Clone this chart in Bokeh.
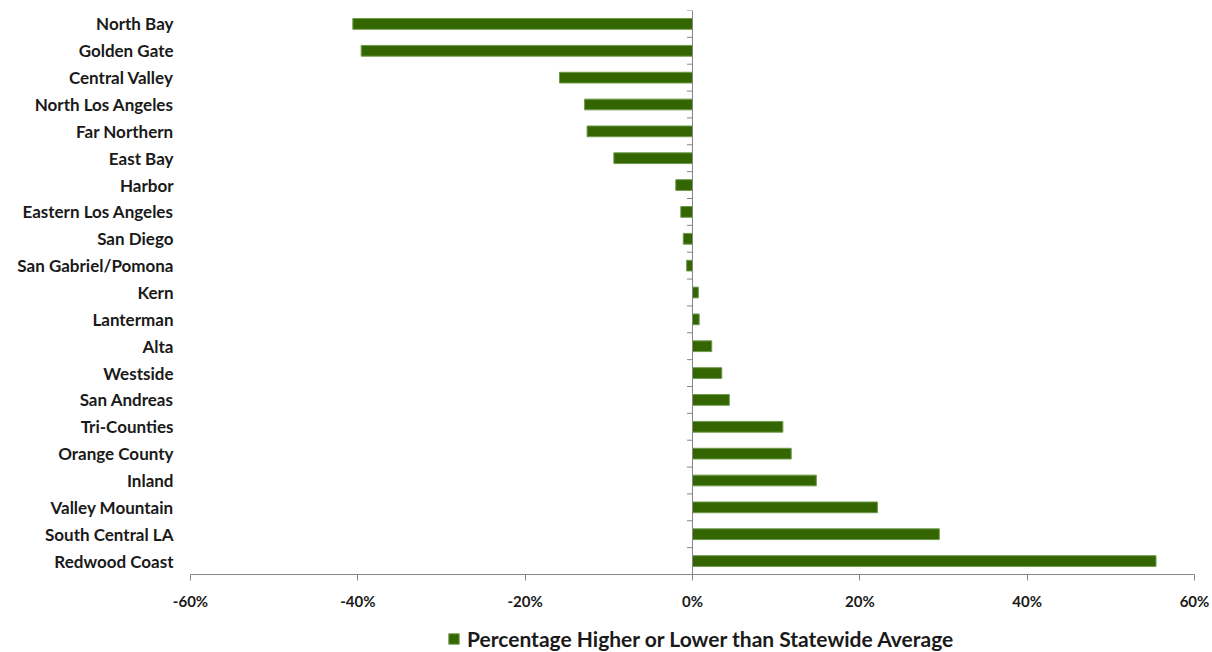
from bokeh.plotting import figure
from bokeh.layouts import column
from bokeh.models import FactorRange, ColumnDataSource, Span, Legend, LegendItem, PrintfTickFormatter, FixedTicker
from bokeh.transform import dodge
from bokeh.embed import file_html
from bokeh.resources import INLINE

regions = ["North Bay", "Golden Gate", "Central Valley", "North Los Angeles", "Far Northern",
           "East Bay", "Harbor", "Eastern Los Angeles", "San Diego", "San Gabriel/Pomona",
           "Kern", "Lanterman", "Alta", "Westside", "San Andreas", "Tri-Counties",
           "Orange County", "Inland", "Valley Mountain", "South Central LA", "Redwood Coast"]
pct_diff = [-40.6, -39.6, -15.9, -12.9, -12.6, -9.4, -2.0, -1.4, -1.1, -0.7,
            0.7, 0.8, 2.3, 3.5, 4.4, 10.8, 11.8, 14.8, 22.1, 29.5, 55.4]
x_ticks = [-60, -40, -20, 0, 20, 40, 60]
series_name = "Percentage Higher or Lower than Statewide Average"

FONT = "Lato"
GREEN = "#336600"
EDGE = "#6f9a4c"
GRAY = "#868686"

p = figure(width=1212, height=612,
           y_range=FactorRange(factors=list(reversed(regions)), range_padding=0),
           x_range=(-60, 60), output_backend="svg", toolbar_location=None,
           min_border_left=190, min_border_right=18, min_border_top=10, min_border_bottom=36)
p.outline_line_color = None
p.grid.grid_line_color = None
p.background_fill_color = "white"

src = ColumnDataSource(dict(region=regions, val=pct_diff, zero=[0] * len(regions)))
p.hbar(y="region", left="zero", right="val", height=0.4, source=src,
       fill_color=GREEN, line_color=EDGE, line_width=1)

# vertical zero line with category-boundary ticks
p.add_layout(Span(location=0, dimension="height", line_color=GRAY, line_width=1))
tsrc = ColumnDataSource(dict(region=regions, x0=[-0.65] * len(regions), x1=[0] * len(regions)))
p.segment(x0="x0", x1="x1", y0=dodge("region", 0.5, range=p.y_range),
          y1=dodge("region", 0.5, range=p.y_range), source=tsrc, line_color=GRAY, line_width=1)
bsrc = ColumnDataSource(dict(region=[regions[-1]], x0=[-0.65], x1=[0]))
p.segment(x0="x0", x1="x1", y0=dodge("region", -0.5, range=p.y_range),
          y1=dodge("region", -0.5, range=p.y_range), source=bsrc,
          line_color=GRAY, line_width=1)

# y axis labels
ya = p.yaxis[0]
ya.axis_line_color = None
ya.major_tick_line_color = None
ya.minor_tick_line_color = None
ya.major_label_standoff = 11
ya.major_label_text_font = FONT
ya.major_label_text_font_style = "bold"
ya.major_label_text_font_size = "17px"
ya.major_label_text_color = "#1a1a1a"

xa = p.xaxis[0]
xa.ticker = FixedTicker(ticks=x_ticks)
xa.formatter = PrintfTickFormatter(format="%d%%")
xa.axis_line_color = GRAY
xa.major_tick_line_color = GRAY
xa.major_tick_out = 6
xa.major_tick_in = 0
xa.minor_tick_line_color = None
xa.major_label_standoff = 11
xa.major_label_text_font = FONT
xa.major_label_text_font_style = "bold"
xa.major_label_text_font_size = "15px"
xa.major_label_text_color = "#1a1a1a"

# legend strip (placeholder bar lies outside the visible range)
p2 = figure(width=1212, height=40, output_backend="svg", toolbar_location=None,
            min_border=0, x_range=(0, 1), y_range=(0, 1))
p2.axis.visible = False
p2.grid.grid_line_color = None
p2.outline_line_color = None
dummy = p2.hbar(y=[-10], left=[0], right=[1], height=0.4, fill_color=GREEN, line_color=EDGE, line_width=1)
legend = Legend(items=[LegendItem(label=series_name, renderers=[dummy])], orientation="horizontal",
                location=(257, 1), label_text_font=FONT, label_text_font_style="bold",
                label_text_font_size="21px", label_text_color="#1a1a1a",
                glyph_width=13, glyph_height=13, padding=0, margin=0, spacing=0,
                label_standoff=7, border_line_color=None, background_fill_alpha=0)
p2.add_layout(legend, "center")

layout = column(p, p2, spacing=0)
open("out.html", "w").write(file_html(layout, INLINE))
